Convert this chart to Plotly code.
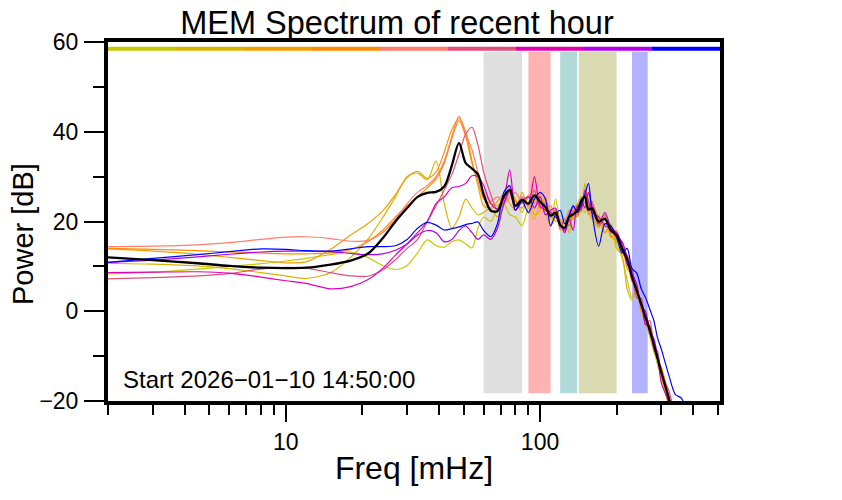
import plotly.graph_objects as go

# frequency grid [mHz]
freq = [2, 3, 4.5, 6, 8, 10, 12, 15, 18, 21, 24, 27, 30, 33, 36, 39, 42, 45, 48, 51,
        54, 57, 60, 64, 68, 72, 76, 80, 85, 90, 95, 100, 105, 110, 115, 120, 125, 130, 135, 140,
        145, 150, 155, 160, 170, 180, 190, 200, 210, 220, 230, 240, 250, 260, 270, 280, 290, 300, 320, 340,
        360, 380]

# power [dB] of each 10-min segment of the hour
seg1 = [8.3, 8.7, 9.4, 10.0, 10.6, 11.2, 11.8, 12.6, 13.2, 12.0,
        10.2, 9.3, 10.2, 13.0, 15.9, 14.6, 14.3, 15.5, 15.9, 15.0,
        14.1, 18.5, 21.0, 20.0, 23.0, 24.0, 21.5, 21.0, 19.0, 23.0,
        20.5, 24.0, 22.0, 19.0, 25.0, 20.0, 17.5, 20.0, 23.5, 21.0,
        24.0, 22.0, 25.0, 21.0, 18.5, 21.5, 17.0, 15.0, 12.0, 7.0,
        3.0, 5.5, 0.0, -2.5, -5.5, -8.5, -12.0, -14.5, -21.0, -26.0, -30, -33]
seg2 = [10.7, 10.5, 10.1, 9.5, 8.6, 7.9, 7.3, 8.6, 12.0, 16.0,
        20.8, 25.5, 30.0, 30.8, 29.3, 33.5, 24.0, 18.5, 21.0, 25.0,
        23.0, 21.5, 22.0, 23.0, 21.0, 23.5, 26.5, 25.0, 22.0, 26.0,
        21.5, 22.5, 25.5, 20.5, 23.0, 18.0, 21.0, 17.5, 22.0, 24.0,
        22.0, 28.5, 23.0, 20.5, 21.5, 17.5, 19.5, 14.0, 12.5, 5.0,
        2.5, 6.0, 0.5, -2.0, -5.5, -9.0, -11.0, -15.0, -20.5, -25.5, -30, -33]
seg3 = [13.9, 13.4, 12.7, 12.0, 11.3, 10.8, 11.0, 13.8, 17.0, 19.5,
        22.3, 26.0, 29.8, 31.2, 29.6, 31.0, 35.5, 40.5, 43.0, 40.0,
        33.5, 28.0, 23.5, 23.0, 24.5, 26.0, 24.0, 22.5, 26.5, 23.0,
        25.0, 24.5, 21.5, 22.5, 20.0, 20.5, 18.0, 22.0, 20.5, 23.5,
        25.5, 24.0, 26.5, 21.0, 20.5, 17.5, 19.0, 15.5, 14.5, 9.5,
        8.0, 3.0, 2.5, -2.5, -3.5, -8.0, -10.0, -15.0, -19.0, -23.5, -28, -31]
seg4 = [14.0, 13.8, 13.5, 13.2, 13.0, 12.8, 12.8, 13.0, 13.8, 15.5,
        18.0, 21.0, 23.5, 25.5, 27.5, 29.5, 33.0, 38.5, 42.5, 39.0,
        33.0, 29.0, 25.0, 24.0, 23.5, 25.0, 27.5, 24.5, 23.0, 25.5,
        24.0, 26.0, 22.5, 23.5, 21.0, 20.0, 19.5, 21.5, 22.5, 21.0,
        24.0, 26.0, 23.5, 22.0, 19.0, 21.5, 16.5, 18.0, 13.0, 11.5,
        6.5, 5.5, 0.0, -1.0, -5.0, -6.5, -11.0, -12.5, -18.5, -24.5, -29, -32]
seg5 = [14.4, 14.5, 14.8, 15.3, 16.0, 16.5, 16.6, 16.2, 15.6, 15.8,
        17.5, 20.5, 24.0, 26.5, 28.0, 30.0, 33.5, 39.0, 43.5, 39.5,
        36.0, 31.0, 26.5, 24.5, 25.5, 24.0, 25.5, 26.5, 24.0, 25.5,
        27.0, 23.5, 24.5, 22.0, 21.0, 20.0, 19.5, 22.5, 21.0, 23.0,
        23.5, 24.5, 21.5, 24.0, 21.0, 19.5, 18.5, 16.0, 15.0, 10.5,
        8.0, 3.5, 2.5, -2.5, -3.0, -8.5, -9.5, -14.5, -18.5, -24.0, -28, -31]
seg6 = [7.2, 7.5, 7.9, 8.4, 9.4, 9.8, 9.6, 8.6, 7.9, 7.8,
        9.2, 11.5, 14.0, 16.0, 20.0, 23.5, 27.0, 30.5, 35.0, 39.5,
        41.0, 37.0, 31.0, 26.0, 22.5, 24.0, 26.5, 22.5, 25.5, 23.5,
        27.0, 23.0, 24.0, 21.0, 22.5, 18.5, 20.5, 19.0, 22.5, 21.5,
        23.0, 26.0, 23.0, 24.5, 19.0, 21.0, 17.5, 17.5, 13.5, 12.5,
        8.5, 3.0, 3.0, -3.0, -2.0, -7.5, -9.0, -14.0, -17.5, -23.0, -27, -30]
seg7 = [8.6, 8.7, 8.8, 8.5, 7.6, 6.8, 6.2, 5.0, 5.5, 7.0,
        9.5, 12.5, 15.0, 17.5, 20.0, 24.0, 25.5, 27.5, 27.8, 28.5,
        30.2, 30.0, 28.0, 24.0, 22.8, 25.0, 31.5, 23.5, 25.0, 24.0,
        30.0, 23.5, 22.5, 22.0, 21.0, 19.5, 17.5, 20.5, 18.0, 23.5,
        22.5, 27.0, 24.5, 22.0, 21.0, 19.0, 18.5, 17.5, 15.0, 10.5,
        9.0, 4.5, 2.0, -3.0, -3.5, -8.0, -10.5, -16.0, -20.0, -24.0, -28, -31]
seg8 = [10.9, 11.4, 12.1, 12.7, 13.2, 13.4, 13.4, 13.3, 12.9, 12.6,
        12.8, 13.6, 15.0, 17.0, 18.0, 17.5, 15.5, 16.0, 18.0, 19.0,
        17.5, 16.0, 17.0, 16.0, 18.5, 24.0, 27.0, 22.5, 24.5, 25.5,
        23.0, 25.5, 21.5, 22.5, 23.0, 19.5, 18.0, 21.5, 23.5, 22.0,
        25.0, 23.0, 26.5, 23.5, 19.5, 22.0, 18.5, 16.5, 15.5, 12.0,
        8.5, 6.0, 1.0, 0.0, -4.5, -6.0, -10.0, -13.5, -19.5, -24.5, -28, -31]
seg9 = [10.9, 11.8, 12.6, 13.3, 13.9, 13.8, 13.5, 13.4, 13.9, 14.4,
        14.4, 14.6, 16.0, 18.5, 19.8, 19.2, 18.1, 18.4, 18.8, 19.3,
        19.6, 19.9, 18.0, 16.6, 19.5, 26.5, 28.0, 22.5, 24.5, 22.0,
        25.0, 26.5, 25.0, 19.0, 21.5, 22.5, 19.5, 21.0, 23.5, 22.0,
        23.5, 26.0, 28.5, 22.0, 14.5, 19.5, 19.0, 16.5, 13.0, 14.0,
        9.5, 8.5, 5.0, 3.0, 0.5, -2.0, -6.0, -8.5, -14.0, -18.5, -19.4, -23]
mean_db = [12.0, 11.4, 10.7, 10.1, 9.7, 9.6, 9.7, 10.4, 11.3, 12.8,
           16.2, 20.0, 23.0, 25.5, 26.4, 26.6, 27.8, 32.5, 37.5, 33.0,
           31.8, 30.5, 26.0, 22.4, 22.3, 25.6, 27.0, 23.5, 24.8, 24.0,
           25.8, 24.4, 23.2, 21.3, 22.0, 19.2, 18.6, 21.0, 21.6, 22.4,
           24.5, 25.6, 22.6, 23.0, 20.0, 20.6, 18.0, 17.0, 14.0, 11.6,
           7.6, 4.6, 1.6, -1.4, -4.2, -7.4, -10.6, -13.6, -19.2, -25.0, -29, -32]

segments = [seg1, seg2, seg3, seg4, seg5, seg6, seg7, seg8, seg9]
seg_colors = ['#c8c800', '#dcb400', '#f0a000', '#ff8c00', '#ff7f6e',
              '#e0507d', '#e000b4', '#b400e6', '#0000ff']

# highlighted frequency bands [mHz]
band_lo = [60, 90, 120, 142, 230]
band_hi = [85, 110, 140, 200, 265]
band_colors = ['rgba(128,128,128,0.25)', 'rgba(255,0,0,0.3)', 'rgba(0,128,128,0.3)',
               'rgba(128,128,0,0.3)', 'rgba(0,0,255,0.3)']

FONT = 'Liberation Sans, Arial, sans-serif'

fig = go.Figure()

for lo, hi, col in zip(band_lo, band_hi, band_colors):
    fig.add_trace(go.Scatter(x=[lo, hi, hi, lo, lo], y=[-18.3, -18.3, 57.8, 57.8, -18.3],
                             mode='lines', fill='toself', fillcolor=col,
                             line=dict(width=0), hoverinfo='skip', showlegend=False))

for vals, col in zip(segments, seg_colors):
    fig.add_trace(go.Scatter(x=freq, y=vals, mode='lines',
                             line=dict(color=col, width=1.2, shape='spline', smoothing=0.8),
                             showlegend=False))

fig.add_trace(go.Scatter(x=freq, y=mean_db, mode='lines',
                         line=dict(color='black', width=2.3, shape='spline', smoothing=0.8),
                         showlegend=False))

# colour key along the top of the frame
n = len(seg_colors)
for i, col in enumerate(seg_colors):
    fig.add_shape(type='line', xref='paper', yref='y', x0=i / n, x1=(i + 1) / n,
                  y0=58.5, y1=58.5, line=dict(color=col, width=4))

fig.add_annotation(text='Start 2026\u221201\u221210 14:50:00', xref='paper', yref='paper',
                   x=0.022, y=0.061, xanchor='left', yanchor='middle', showarrow=False,
                   font=dict(family=FONT, size=24, color='black'))

# y-axis title placed as annotation
fig.add_annotation(text='Power [dB]', xref='paper', yref='paper', x=-0.139, y=0.465,
                   xanchor='center', yanchor='middle', textangle=-90, showarrow=False,
                   font=dict(family=FONT, size=29, color='black'))

# page body adds 8px offset, so margins are shifted accordingly
fig.update_layout(
    width=842, height=500,
    margin=dict(l=100, r=130, t=34, b=107),
    paper_bgcolor='white', plot_bgcolor='white',
    font=dict(family=FONT, color='black'),
    title=dict(text='MEM Spectrum of recent hour', x=389 / 842, xref='container', xanchor='center',
               y=1 - 15 / 500, yanchor='middle', font=dict(size=32.5, color='black')),
)

fig.update_xaxes(
    type='log', range=[0.301, 2.7076], automargin=False,
    showline=True, linewidth=4, linecolor='black', mirror=True,
    showgrid=False, zeroline=False,
    tickmode='array', tickvals=[10, 100], ticktext=['10', '100'],
    ticks='outside', ticklen=17, tickwidth=2, tickcolor='black',
    tickfont=dict(size=23), ticklabelstandoff=0,
    minor=dict(tickmode='array',
               tickvals=[2, 3, 4, 5, 6, 7, 8, 9, 20, 30, 40, 50, 60, 70, 80, 90, 200, 300, 400, 500],
               ticks='outside', ticklen=10, tickwidth=2, tickcolor='black', showgrid=False),
    title=dict(text='Freq [mHz]', font=dict(size=32), standoff=4),
)

fig.update_yaxes(
    range=[-20, 60], automargin=False,
    showline=True, linewidth=4, linecolor='black', mirror=True,
    showgrid=False, zeroline=False,
    tickmode='array', tickvals=[-20, 0, 20, 40, 60],
    ticks='outside', ticklen=20, tickwidth=2, tickcolor='black',
    tickfont=dict(size=23), ticklabelstandoff=1,
    minor=dict(tickmode='array', tickvals=[-10, 10, 30, 50],
               ticks='outside', ticklen=11, tickwidth=2, tickcolor='black', showgrid=False),
)

fig.write_html('out.html')
